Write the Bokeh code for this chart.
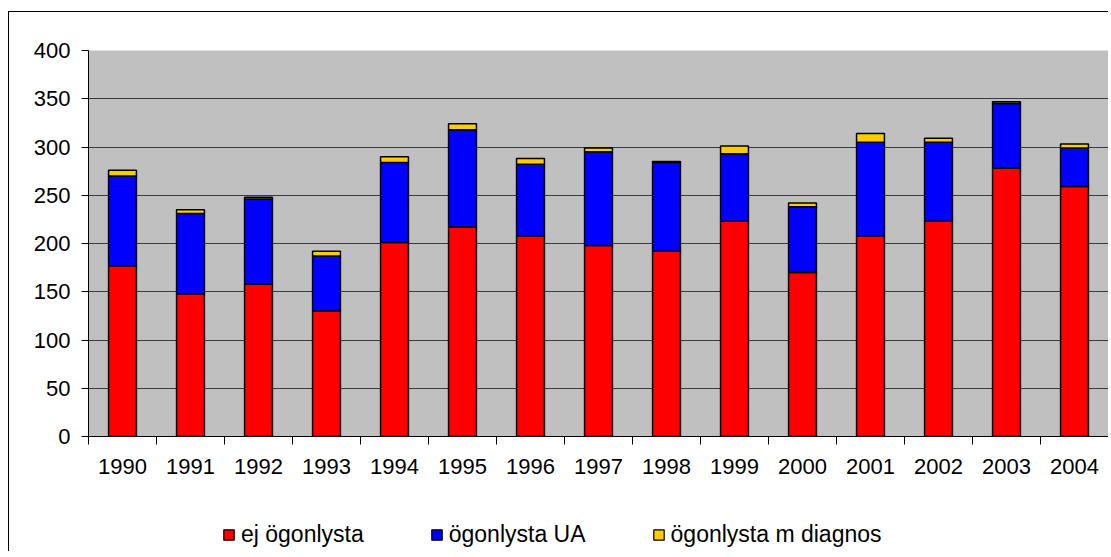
from bokeh.plotting import figure
from bokeh.layouts import column
from bokeh.models import Range1d, FixedTicker, Legend, LegendItem, ColumnDataSource
from bokeh.embed import file_html
from bokeh.resources import INLINE

years = ["1990", "1991", "1992", "1993", "1994", "1995", "1996", "1997",
         "1998", "1999", "2000", "2001", "2002", "2003", "2004"]
ej_ogonlysta = [177, 148, 158, 130, 201, 217, 208, 198, 192, 223, 170, 208, 223, 278, 259]
ogonlysta_ua = [93, 83, 88, 57, 83, 101, 74, 97, 92, 70, 68, 97, 82, 67, 40]
ogonlysta_m_diagnos = [6, 4, 2, 5, 6, 6, 6, 4, 1, 8, 4, 9, 4, 2, 4]
y_ticks = [0, 50, 100, 150, 200, 250, 300, 350, 400]

series = ["ej ögonlysta", "ögonlysta UA", "ögonlysta m diagnos"]
colors = ["#FF0000", "#0000FF", "#FFCC00"]

FONT = "Liberation Sans"
xs = list(range(len(years)))
src = ColumnDataSource(dict(x=xs, a=ej_ogonlysta, b=ogonlysta_ua, c=ogonlysta_m_diagnos))

p = figure(width=1099, height=484, output_backend="svg", toolbar_location=None,
           x_range=Range1d(-0.5, len(years) - 0.5), y_range=Range1d(0, 400),
           min_border_left=79, min_border_right=0, min_border_top=38, min_border_bottom=60)
p.background_fill_color = "#C0C0C0"
p.border_fill_color = "white"
p.outline_line_color = None

p.vbar_stack(["a", "b", "c"], x="x", width=0.41, source=src, color=colors,
             line_color="black", line_width=1.5)

p.xgrid.grid_line_color = None
p.ygrid.grid_line_color = "#3a3a3a"
p.ygrid.grid_line_width = 1
p.ygrid.ticker = FixedTicker(ticks=y_ticks)

xa = p.xaxis[0]
xa.ticker = FixedTicker(ticks=xs, minor_ticks=[i - 0.5 for i in range(len(years) + 1)])
xa.major_label_overrides = {i: y for i, y in enumerate(years)}
xa.major_tick_out = 0
xa.major_tick_in = 0
xa.minor_tick_out = 8
xa.minor_tick_in = 0
xa.minor_tick_line_color = "black"
xa.axis_line_color = "black"
xa.major_label_standoff = 14
xa.major_label_text_font = FONT
xa.major_label_text_font_size = "22px"
xa.major_label_text_color = "black"

ya = p.yaxis[0]
ya.ticker = FixedTicker(ticks=y_ticks)
ya.major_tick_out = 7
ya.major_tick_in = 0
ya.minor_tick_out = 0
ya.minor_tick_in = 0
ya.major_tick_line_color = "black"
ya.axis_line_color = "black"
ya.major_label_standoff = 11
ya.major_label_text_font = FONT
ya.major_label_text_font_size = "22px"
ya.major_label_text_color = "black"

# legend strip below the chart (swatch renderers sit outside its visible range)
lf = figure(width=1099, height=55, output_backend="svg", toolbar_location=None,
            x_axis_type=None, y_axis_type=None,
            x_range=Range1d(0, 1), y_range=Range1d(0, 1),
            min_border_left=0, min_border_right=0, min_border_top=0, min_border_bottom=0)
lf.outline_line_color = None
lf.grid.visible = False
lf.background_fill_color = "white"
lf.border_fill_color = "white"
swatches = [lf.vbar(x=[-10], top=[-10], bottom=[-11], width=0.1, fill_color=c,
                    line_color="black", line_width=1.2)
            for c in colors]
legend = Legend(items=[LegendItem(label=s, renderers=[r]) for s, r in zip(series, swatches)],
                orientation="horizontal", location=(134, 3),
                glyph_width=13, glyph_height=13, label_standoff=6, spacing=66,
                padding=0, margin=0, border_line_color=None, background_fill_alpha=0,
                label_text_font=FONT, label_text_font_size="23px", label_text_color="black")
lf.add_layout(legend, "center")

layout = column(p, lf, spacing=0)
layout.styles = {"border-left": "1px solid black", "border-top": "1px solid black",
                 "margin-top": "11px", "margin-left": "8px"}

open("out.html", "w").write(file_html(layout, INLINE))
